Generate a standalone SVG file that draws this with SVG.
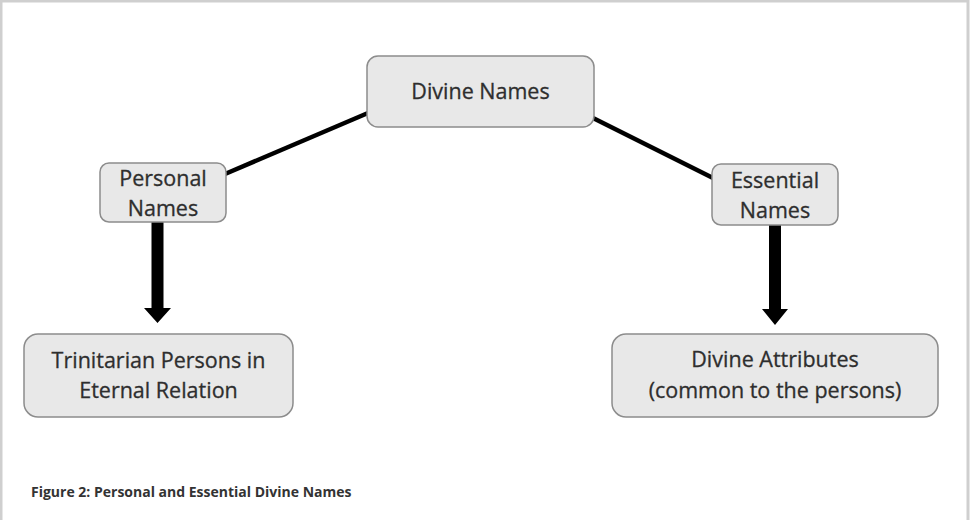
<svg xmlns="http://www.w3.org/2000/svg" width="970" height="520" viewBox="0 0 970 520">
<style>
.box{fill:#e8e8e8;stroke:#8c8c8c;stroke-width:1.5}
.t{font-family:"Open Sans","Liberation Sans",sans-serif;font-size:21.5px;fill:#2e2e2e;text-anchor:middle;stroke:#2e2e2e;stroke-width:0.3}
.cap{font-family:"Open Sans","Liberation Sans",sans-serif;font-size:14px;font-weight:bold;fill:#333}
.ln{stroke:#000;stroke-width:4.5;fill:none}
.shaft{fill:#000}
</style>
<rect x="0" y="0" width="970" height="520" fill="#fff"/>
<rect x="1" y="1" width="967" height="530" fill="none" stroke="#cfcfcf" stroke-width="3"/>
<g id="connectors">
<line class="ln" x1="368" y1="113" x2="225" y2="174"/>
<line class="ln" x1="593" y1="118" x2="713" y2="178"/>
<polygon class="shaft" points="151.5,222 163.5,222 163.5,308 171,308 157.5,323 144,308 151.5,308"/>
<polygon class="shaft" points="769,225 781,225 781,309 788,309 775,325 762,309 769,309"/>
</g>
<g id="divine-names">
<rect class="box" x="367" y="56" width="227" height="71" rx="11"/>
<text class="t" x="480.5" y="99">Divine Names</text>
</g>
<g id="personal-names">
<rect class="box" x="100" y="163" width="126" height="59" rx="9"/>
<text class="t" x="163" y="186">Personal</text>
<text class="t" x="163" y="216">Names</text>
</g>
<g id="essential-names">
<rect class="box" x="712" y="164" width="126" height="61" rx="9"/>
<text class="t" x="775" y="188">Essential</text>
<text class="t" x="775" y="218">Names</text>
</g>
<g id="trinitarian-persons">
<rect class="box" x="24" y="334" width="269" height="83" rx="14"/>
<text class="t" x="158.5" y="368">Trinitarian Persons in</text>
<text class="t" x="158.5" y="398">Eternal Relation</text>
</g>
<g id="divine-attributes">
<rect class="box" x="612" y="334" width="326" height="83" rx="14"/>
<text class="t" x="775" y="367">Divine Attributes</text>
<text class="t" x="775" y="398">(common to the persons)</text>
</g>
<text class="cap" x="31" y="497">Figure 2: Personal and Essential Divine Names</text>
</svg>
